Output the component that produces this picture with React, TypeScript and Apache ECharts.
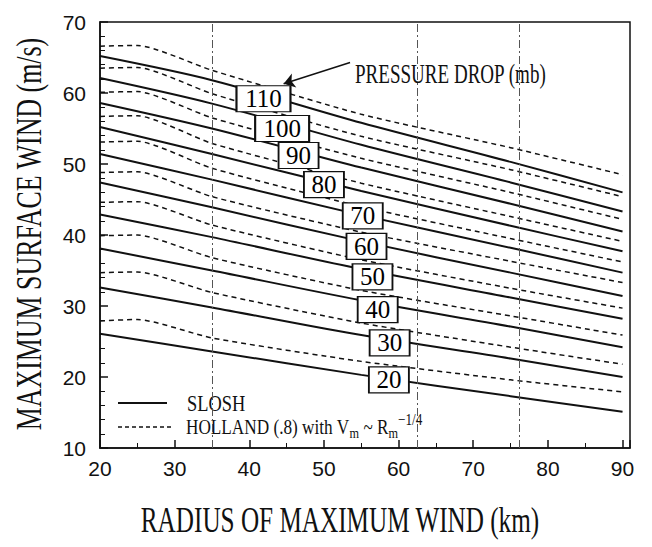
import React, { useEffect, useRef } from "react";
import * as echarts from "echarts";

// Radius of maximum wind (km) sampled along each curve
const sloshX = [20, 35, 55, 75, 90];
const hollandX = [20, 25, 35, 55, 75, 90];
const pressureDrops = [110, 100, 90, 80, 70, 60, 50, 40, 30, 20];

// SLOSH maximum surface wind (m/s), one row per pressure drop
const sloshValues: number[][] = [
  [65.2, 61.8, 55.8, 50.3, 46.0],
  [62.1, 58.5, 52.7, 47.4, 43.3],
  [58.6, 55.0, 49.5, 44.4, 40.5],
  [55.2, 51.4, 46.2, 41.3, 37.7],
  [51.4, 47.8, 42.8, 38.2, 34.7],
  [47.4, 43.9, 39.1, 34.7, 31.4],
  [42.9, 39.7, 35.2, 31.2, 28.2],
  [38.1, 35.0, 30.8, 27.1, 24.2],
  [32.6, 29.8, 25.9, 22.6, 20.0],
  [26.1, 23.6, 20.3, 17.3, 15.1],
];

// HOLLAND (.8) maximum surface wind (m/s), one row per pressure drop
const hollandValues: number[][] = [
  [66.6, 66.7, 63.2, 57.0, 52.3, 48.5],
  [63.5, 63.6, 59.9, 53.9, 49.2, 45.4],
  [60.1, 60.2, 56.5, 50.8, 46.0, 42.2],
  [56.7, 56.8, 52.9, 47.3, 42.6, 39.1],
  [53.1, 53.2, 49.4, 44.0, 39.5, 36.2],
  [48.8, 48.9, 45.4, 40.4, 36.3, 33.3],
  [44.6, 44.7, 41.4, 36.5, 32.5, 29.7],
  [39.9, 40.0, 36.8, 32.2, 28.6, 25.9],
  [34.7, 34.8, 31.9, 27.6, 24.2, 21.8],
  [27.9, 28.1, 25.5, 22.2, 19.6, 17.9],
];

// Where each pressure-drop tag sits (data coordinates)
const labelX = [41.9, 44.4, 46.6, 50.0, 55.2, 55.7, 56.5, 57.2, 58.8, 58.7];
const labelY = [59.2, 55.0, 51.2, 47.1, 42.7, 38.4, 34.1, 29.5, 24.8, 19.6];

// Faint dash-dot vertical lines present on the scanned sheet
const scanGuideX = [35, 62.5, 76.2];

// Arrow from the "PRESSURE DROP" note to the 110 tag
const arrowFrom = [53.5, 64.3];
const arrowTo = [44.6, 61.3];

const serif = "'Liberation Serif', 'DejaVu Serif', serif";
const sans = "'Liberation Sans', Arial, sans-serif";
const ink = "#111";

export default function App() {
  const ref = useRef<HTMLDivElement>(null);

  useEffect(() => {
    if (!ref.current) return;
    const chart = echarts.init(ref.current, undefined, { renderer: "svg" });

    const series: any[] = [];
    pressureDrops.forEach((p, i) => {
      series.push({
        name: "SLOSH " + p,
        type: "line",
        data: sloshX.map((x, j) => [x, sloshValues[i][j]]),
        showSymbol: false,
        smooth: 0.3,
        silent: true,
        lineStyle: { color: ink, width: 2 },
        z: 3,
      });
      series.push({
        name: "HOLLAND " + p,
        type: "line",
        data: hollandX.map((x, j) => [x, hollandValues[i][j]]),
        showSymbol: false,
        smooth: 0.2,
        silent: true,
        lineStyle: { color: ink, width: 1.5, type: [5, 4] },
        z: 3,
      });
    });

    series.push({
      name: "tags",
      type: "scatter",
      silent: true,
      z: 10,
      symbol: "rect",
      itemStyle: { color: "#fff", borderColor: ink, borderWidth: 1.5, opacity: 1 },
      label: {
        show: true,
        position: "inside",
        fontFamily: serif,
        fontSize: 25,
        color: "#000",
        formatter: (d: any) => String(d.data.tag),
      },
      data: pressureDrops.map((p, i) => ({
        value: [labelX[i], labelY[i]],
        tag: p,
        symbolSize: [String(p).length === 3 ? 54 : 40, 26],
      })),
      markLine: {
        silent: true,
        symbol: ["none", "arrow"],
        symbolSize: 11,
        label: { show: false },
        lineStyle: { color: ink, width: 1.5, type: "solid" },
        data: [[{ coord: arrowFrom }, { coord: arrowTo }]],
      },
    });

    series.push({
      name: "guides",
      type: "line",
      data: [],
      silent: true,
      markLine: {
        silent: true,
        symbol: ["none", "none"],
        label: { show: false },
        lineStyle: { color: "#555", width: 1, type: [8, 3, 2, 3] },
        data: scanGuideX.map((x) => ({ xAxis: x })),
      },
    });

    chart.setOption({
      animation: false,
      backgroundColor: "#fff",
      grid: {
        left: 100,
        right: 22,
        top: 22,
        bottom: 99,
        show: true,
        borderColor: ink,
        borderWidth: 1.5,
        backgroundColor: "transparent",
      },
      xAxis: {
        type: "value",
        min: 20,
        max: 91,
        interval: 10,
        axisLine: { show: true, lineStyle: { color: ink, width: 1.5 } },
        axisTick: { show: true, inside: true, length: 8, lineStyle: { color: ink, width: 1.5 } },
        minorTick: { show: true, splitNumber: 2, length: 5, lineStyle: { color: ink } },
        splitLine: { show: false },
        axisLabel: {
          margin: 10,
          showMaxLabel: false,
          fontFamily: sans,
          fontSize: 21,
          color: ink,
        },
      },
      yAxis: {
        type: "value",
        min: 10,
        max: 70,
        interval: 10,
        axisLine: { show: true, lineStyle: { color: ink, width: 1.5 } },
        axisTick: { show: true, inside: true, length: 8, lineStyle: { color: ink, width: 1.5 } },
        minorTick: { show: true, splitNumber: 5, length: 5, lineStyle: { color: ink } },
        splitLine: { show: false },
        axisLabel: { margin: 14, fontFamily: sans, fontSize: 21, color: ink },
      },
      graphic: [
        {
          type: "text",
          x: 340,
          y: 521,
          scaleX: 0.72,
          style: {
            text: "RADIUS OF MAXIMUM WIND (km)",
            fontFamily: serif,
            fontSize: 35,
            fill: ink,
            align: "center",
            verticalAlign: "middle",
          },
        },
        {
          type: "text",
          x: 30,
          y: 234,
          rotation: Math.PI / 2,
          scaleX: 0.74,
          style: {
            text: "MAXIMUM SURFACE WIND (m/s)",
            fontFamily: serif,
            fontSize: 35,
            fill: ink,
            align: "center",
            verticalAlign: "middle",
          },
        },
        {
          type: "text",
          x: 355,
          y: 74,
          scaleX: 0.68,
          style: {
            text: "PRESSURE DROP (mb)",
            fontFamily: serif,
            fontSize: 28,
            fill: ink,
            align: "left",
            verticalAlign: "middle",
          },
        },
        {
          type: "line",
          shape: { x1: 118, y1: 403, x2: 167, y2: 403 },
          style: { stroke: ink, lineWidth: 2 },
        },
        {
          type: "text",
          x: 187,
          y: 403,
          scaleX: 0.8,
          style: {
            text: "SLOSH",
            fontFamily: serif,
            fontSize: 23,
            fill: ink,
            align: "left",
            verticalAlign: "middle",
          },
        },
        {
          type: "line",
          shape: { x1: 118, y1: 427, x2: 172, y2: 427 },
          style: { stroke: ink, lineWidth: 1.5, lineDash: [4, 3] },
        },
        {
          type: "text",
          x: 186,
          y: 427,
          scaleX: 0.82,
          style: {
            text: "{b|HOLLAND (.8) with V}{s|m}{b| ~ R}{s|m}{p|−1/4}",
            fill: ink,
            align: "left",
            verticalAlign: "middle",
            rich: {
              b: { fontFamily: serif, fontSize: 21, fill: ink },
              s: { fontFamily: serif, fontSize: 15, fill: ink, padding: [12, 0, 0, 0] },
              p: { fontFamily: serif, fontSize: 16, fill: ink, padding: [0, 0, 14, 0] },
            },
          },
        },
      ],
      series,
    });

    return () => chart.dispose();
  }, []);

  return (
    <div
      ref={ref}
      style={{ position: "fixed", left: 0, top: 0, width: 652, height: 547, background: "#fff" }}
    />
  );
}
